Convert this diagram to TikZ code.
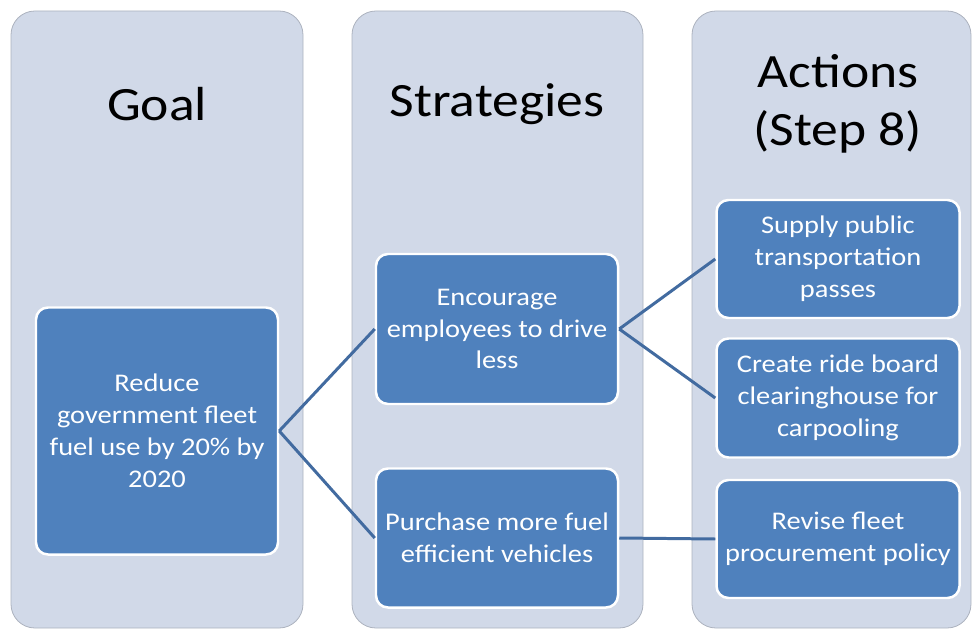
\documentclass[tikz,border=0pt]{standalone}
\usepackage{fontspec}
\setmainfont{Carlito}[FakeStretch=1.12]
\definecolor{colfill}{RGB}{209,217,232}
\definecolor{colline}{RGB}{172,178,190}
\definecolor{boxfill}{RGB}{79,129,189}
\definecolor{linkblue}{RGB}{66,107,160}
\tikzset{col/.style={draw=colline,line width=0.8,fill=colfill,rounded corners=24}}
\tikzset{head/.style={font=\fontsize{48}{58}\selectfont,align=center}}
\tikzset{box/.style={draw=white,line width=2.5,fill=boxfill,rounded corners=12,
  text=white,align=center,inner sep=0,font=\fontsize{25.5}{32}\selectfont}}
\tikzset{link/.style={draw=linkblue,line width=3}}

\begin{document}
\begin{tikzpicture}[x=1bp,y=-1bp]
        \useasboundingbox (0,0) rectangle (973,630);
        % columns
        \draw[col] (11,11) rectangle (303,628);
        \draw[col] (352,11) rectangle (643,628);
        \draw[col] (692,11) rectangle (971,628);
        \node[head] (hgoal) at (157,104) {Goal};
        \node[head] (hstrat) at (497,104) {Strategies};
        \node[head] (hact) at (838,104) {Actions\\(Step 8)};
        % boxes
        \node[box,minimum width=242bp,minimum height=247bp] (goal) at (157,431)
          {Reduce\\government fleet\\fuel use by 20\% by\\2020};
        \node[box,minimum width=242bp,minimum height=150bp] (sA) at (497,329)
          {Encourage\\employees to drive\\less};
        \node[box,minimum width=242bp,minimum height=139bp] (sB) at (497,538)
          {Purchase more fuel\\efficient vehicles};
        \node[box,minimum width=243bp,minimum height=118bp] (aA) at (838,259)
          {Supply public\\transportation\\passes};
        \node[box,minimum width=243bp,minimum height=119bp] (aB) at (838,398)
          {Create ride board\\clearinghouse for\\carpooling};
        \node[box,minimum width=243bp,minimum height=118bp] (aC) at (838,539)
          {Revise fleet\\procurement policy};
        % links
        \draw[link] (goal.east) -- (sA.west);
        \draw[link] (goal.east) -- (sB.west);
        \draw[link] (sA.east) -- (aA.west);
        \draw[link] (sA.east) -- (aB.west);
        \draw[link] (sB.east) -- (aC.west);
\end{tikzpicture}
\end{document}
